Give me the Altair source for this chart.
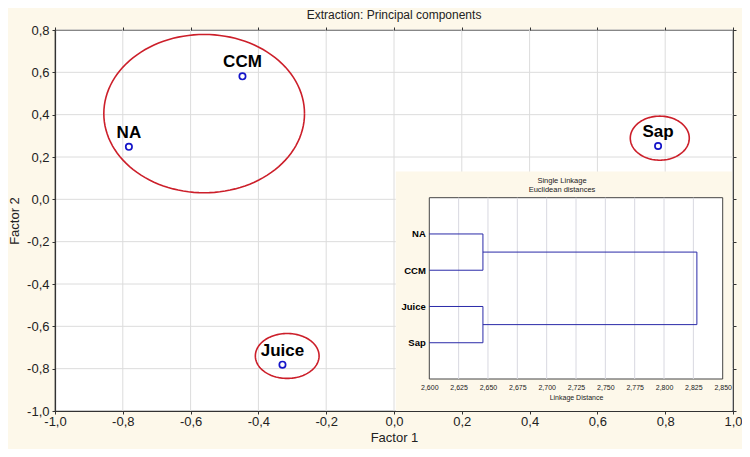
import math
import altair as alt
import pandas as pd

# ---------------- data ----------------
samples = ["NA", "CCM", "Sap", "Juice"]
factor1 = [-0.782, -0.447, 0.779, -0.329]
factor2 = [0.248, 0.581, 0.252, -0.781]

# cluster ellipses (center x, center y, radius x, radius y)
ell_names = ["NA+CCM", "Sap", "Juice"]
ell_cx = [-0.560, 0.784, -0.315]
ell_cy = [0.405, 0.289, -0.740]
ell_rx = [0.296, 0.087, 0.094]
ell_ry = [0.374, 0.104, 0.106]

main_ticks_x = [-1.0, -0.8, -0.6, -0.4, -0.2, 0.0, 0.2, 0.4, 0.6, 0.8, 1.0]
main_ticks_y = [-1.0, -0.8, -0.6, -0.4, -0.2, 0.0, 0.2, 0.4, 0.6, 0.8]

# dendrogram (single linkage, Euclidean distances)
leaf_order = ["NA", "CCM", "Juice", "Sap"]
merge_pair_1 = 2.6457   # NA + CCM
merge_pair_2 = 2.6457   # Juice + Sap
merge_root = 2.828
dend_ticks = [2.600, 2.625, 2.650, 2.675, 2.700, 2.725, 2.750, 2.775, 2.800, 2.825, 2.850]

FONT = "Liberation Sans"
CREAM = "#fdf8ea"

# ---------------- tables ----------------
pts = pd.DataFrame({"name": samples, "f1": factor1, "f2": factor2})

ell_rows = []
for n, cx, cy, rx, ry in zip(ell_names, ell_cx, ell_cy, ell_rx, ell_ry):
    for i in range(121):
        t = 2 * math.pi * i / 120
        ell_rows.append({"g": n, "i": i, "ex": cx + rx * math.cos(t), "ey": cy + ry * math.sin(t)})
ell = pd.DataFrame(ell_rows)

gx = pd.DataFrame({"v": main_ticks_x[1:-1]})
gy = pd.DataFrame({"v": main_ticks_y[1:]})

# dendrogram segments
base = dend_ticks[0]
segs = []
for k, lf in enumerate(leaf_order):
    m = merge_pair_1 if k < 2 else merge_pair_2
    segs.append({"x": base, "x2": m, "y": k + 1, "y2": k + 1})
segs.append({"x": merge_pair_1, "x2": merge_pair_1, "y": 1, "y2": 2})
segs.append({"x": merge_pair_2, "x2": merge_pair_2, "y": 3, "y2": 4})
segs.append({"x": merge_pair_1, "x2": merge_root, "y": 1.5, "y2": 1.5})
segs.append({"x": merge_pair_2, "x2": merge_root, "y": 3.5, "y2": 3.5})
segs.append({"x": merge_root, "x2": merge_root, "y": 1.5, "y2": 3.5})
segdf = pd.DataFrame(segs)
dgrid = pd.DataFrame({"v": dend_ticks[1:-1]})

# ---------------- scales ----------------
XS = alt.Scale(domain=[-1.0, 1.0], nice=False, zero=False)
YS = alt.Scale(domain=[-1.0, 0.8], nice=False, zero=False)
comma1 = "(datum.value < 0 ? '-' : '') + replace(format(abs(datum.value), '.1f'), '.', ',')"

common = dict(labelFontSize=13, titleFontSize=13, titleFontWeight="normal",
              labelFont=FONT, titleFont=FONT, labelColor="#222", titleColor="#222",
              domainColor="#333", domainWidth=1.2, tickColor="#333", tickSize=3,
              grid=False, zindex=2, labelFlush=False, labelOverlap=False)
xax = alt.Axis(values=main_ticks_x, labelExpr=comma1, title="Factor 1",
               labelPadding=1, titlePadding=3, **common)
yax = alt.Axis(values=main_ticks_y, labelExpr=comma1, title="Factor 2",
               labelPadding=3, titlePadding=5, **common)

grid_x = alt.Chart(gx).mark_rule(color="#dcdcdc", strokeWidth=1).encode(
    x=alt.X("v:Q", scale=XS, axis=xax))
grid_y = alt.Chart(gy).mark_rule(color="#dcdcdc", strokeWidth=1).encode(
    y=alt.Y("v:Q", scale=YS, axis=yax))

ellipses = alt.Chart(ell).mark_line(color="#cc1f2a", strokeWidth=1.6).encode(
    x=alt.X("ex:Q", scale=XS), y=alt.Y("ey:Q", scale=YS),
    detail="g:N", order="i:Q")

points = alt.Chart(pts).mark_point(shape="circle", filled=False, size=40,
                                   color="#1414c8", strokeWidth=1.7, opacity=1).encode(
    x=alt.X("f1:Q", scale=XS), y=alt.Y("f2:Q", scale=YS))

labels = alt.Chart(pts).mark_text(font=FONT, fontSize=17, fontWeight="bold",
                                  color="#000", dy=-14).encode(
    x=alt.X("f1:Q", scale=XS), y=alt.Y("f2:Q", scale=YS), text="name:N")

inset_bg = alt.Chart(pd.DataFrame({"a": [0.005], "b": [0.997], "c": [-1.0], "d": [0.132]})).mark_rect(
    fill=CREAM).encode(
    x=alt.X("a:Q", scale=XS), x2="b:Q", y=alt.Y("c:Q", scale=YS), y2="d:Q")

main = alt.layer(grid_x, grid_y, ellipses, points, labels, inset_bg)

# ---------------- top / right tick marks of the frame ----------------
frame_ticks = alt.Chart(pd.DataFrame({"a": [0.0], "b": [0.0]})).mark_point(opacity=0).encode(
    x=alt.X("a:Q", scale=XS, axis=alt.Axis(orient="top", values=main_ticks_x, labels=False,
                                            title=None, domain=False, grid=False, tickSize=3,
                                            tickColor="#333", zindex=2)),
    y=alt.Y("b:Q", scale=YS, axis=alt.Axis(orient="right", values=main_ticks_y, labels=False,
                                            title=None, domain=False, grid=False, tickSize=3,
                                            tickColor="#333", zindex=2)))

# ---------------- inset dendrogram ----------------
IXS = alt.Scale(domain=[2.6, 2.85], range=[374.3, 667.7], nice=False, zero=False)
IYS = alt.Scale(domain=[0, 5], range=[167.7, 349], nice=False, zero=False)
comma3 = "replace(format(datum.value, '.3f'), '.', ',')"
leafExpr = "['', 'NA', 'CCM', 'Juice', 'Sap'][datum.value]"

ixax = alt.Axis(orient="bottom", offset=-32, values=dend_ticks, labelExpr=comma3,
                grid=False, domain=False, ticks=False, title="Linkage Distance",
                labelFontSize=7, titleFontSize=7, titleFontWeight="normal",
                labelFont=FONT, titleFont=FONT, labelColor="#222", titleColor="#222",
                labelPadding=4, titlePadding=3, zindex=2, labelFlush=False,
                labelOverlap=False)
iyax = alt.Axis(orient="left", offset=-374.3, values=[1, 2, 3, 4], labelExpr=leafExpr,
                grid=False, domain=False, ticks=False, title=None,
                labelFontSize=9.5, labelFontWeight="bold", labelFont=FONT,
                labelColor="#000", labelPadding=4, zindex=2, labelFlush=False)

frame = alt.Chart(pd.DataFrame({"a": [2.6], "b": [2.85], "c": [0], "d": [5]})).mark_rect(
    fill="white", stroke="#444", strokeWidth=1).encode(
    x=alt.X("a:Q", scale=IXS, axis=ixax), x2="b:Q",
    y=alt.Y("c:Q", scale=IYS, axis=iyax), y2="d:Q")

dg = alt.Chart(dgrid).mark_rule(color="#d8d8e0", strokeWidth=1).encode(
    x=alt.X("v:Q", scale=IXS), y=alt.datum(0, scale=IYS), y2=alt.datum(5))

dend = alt.Chart(segdf).mark_rule(color="#2a2aa8", strokeWidth=1).encode(
    x=alt.X("x:Q", scale=IXS), x2="x2:Q", y=alt.Y("y:Q", scale=IYS), y2="y2:Q")

ititle1 = alt.Chart(pd.DataFrame({"t": ["Single Linkage"]})).mark_text(
    font=FONT, fontSize=7.5, color="#222").encode(
    x=alt.value(507), y=alt.value(151), text="t:N")
ititle2 = alt.Chart(pd.DataFrame({"t": ["Euclidean distances"]})).mark_text(
    font=FONT, fontSize=7.5, color="#222").encode(
    x=alt.value(507), y=alt.value(160), text="t:N")

inset = alt.layer(frame, dg, dend, ititle1, ititle2)

chart = alt.layer(main, inset, frame_ticks).resolve_scale(x="independent", y="independent").properties(
    width=678, height=381,
    title=alt.TitleParams("Extraction: Principal components", font=FONT, fontSize=12,
                          fontWeight="normal", color="#222", offset=2),
    background=CREAM,
    autosize=alt.AutoSizeParams(type="none"),
    padding={"left": 47, "top": 22, "right": 9, "bottom": 38},
).configure_view(fill="white", stroke="#333", strokeWidth=1.2)

chart.save("out.html", embed_options={"renderer": "svg", "actions": False})
